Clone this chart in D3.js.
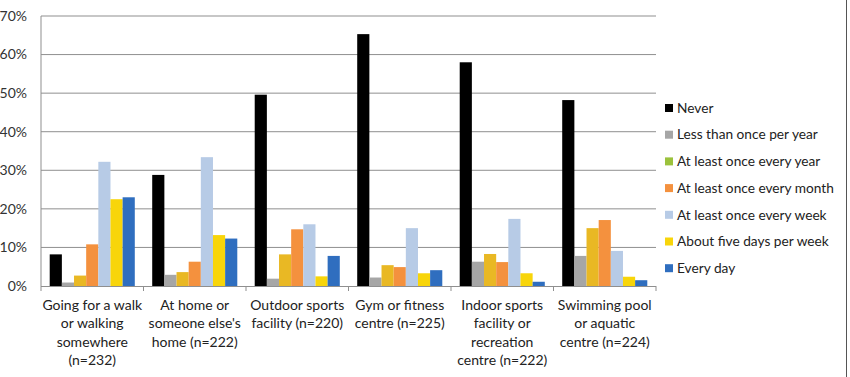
<!DOCTYPE html>
<html>
<head>
<meta charset="utf-8">
<script src="https://cdn.jsdelivr.net/npm/d3@7"></script>
<style>
  html, body { margin: 0; padding: 0; background: #fff; }
  svg { display: block; font-family: Lato, "Open Sans", sans-serif; }
</style>
</head>
<body>
<svg id="chart" width="850" height="377"></svg>
<script>
"use strict";

// ── Data ──────────────────────────────────────────────────────────────────────
const categories = [
  ["Going for a walk", "or walking", "somewhere", "(n=232)"],
  ["At home or", "someone else's", "home (n=222)"],
  ["Outdoor sports", "facility (n=220)"],
  ["Gym or fitness", "centre (n=225)"],
  ["Indoor sports", "facility or", "recreation", "centre (n=222)"],
  ["Swimming pool", "or aquatic", "centre (n=224)"]
];
const seriesNames = [
  "Never",
  "Less than once per year",
  "At least once every year",
  "At least once every month",
  "At least once every week",
  "About five days per week",
  "Every day"
];
const seriesColors = ["#000000", "#a6a6a6", "#e9b824", "#f4913e", "#b7cbe6", "#f8d50a", "#2f6ebf"];
const legendColors = ["#000000", "#a6a6a6", "#9bc23c", "#f4913e", "#b7cbe6", "#f8d50a", "#2f6ebf"];

// one array per series, values in % for each category
const never        = [8.2, 28.8, 49.6, 65.3, 58.0, 48.2];
const lessThanYear = [0.9, 2.9, 1.9, 2.2, 6.3, 7.8];
const onceYear     = [2.7, 3.6, 8.2, 5.4, 8.3, 15.0];
const onceMonth    = [10.8, 6.3, 14.7, 4.9, 6.2, 17.1];
const onceWeek     = [32.2, 33.4, 16.0, 15.0, 17.4, 9.1];
const fiveDays     = [22.5, 13.2, 2.5, 3.3, 3.3, 2.4];
const everyDay     = [23.0, 12.3, 7.8, 4.1, 1.1, 1.5];
const seriesValues = [never, lessThanYear, onceYear, onceMonth, onceWeek, fiveDays, everyDay];

const yTicks = [0, 10, 20, 30, 40, 50, 60, 70];

// ── Layout ────────────────────────────────────────────────────────────────────
const svg = d3.select("#chart");
const M = { left: 41, right: 656, top: 16, bottom: 286 };

const x0 = d3.scaleBand()
  .domain(d3.range(categories.length))
  .range([M.left, M.right])
  .paddingInner(0.17)
  .paddingOuter(0.085);

const step = (M.right - M.left) / categories.length;
const x1 = d3.scaleBand()
  .domain(d3.range(seriesNames.length))
  .range([0, x0.bandwidth()]);

const y = d3.scaleLinear().domain([0, 70]).range([M.bottom, M.top]);

// gridlines
svg.append("g")
  .selectAll("line")
  .data(yTicks.slice(1))
  .join("line")
  .attr("x1", M.left).attr("x2", M.right)
  .attr("y1", (d) => y(d)).attr("y2", (d) => y(d))
  .attr("stroke", "#8f8f8f").attr("stroke-width", 1);

// left axis line
svg.append("line")
  .attr("x1", M.left).attr("x2", M.left)
  .attr("y1", M.top).attr("y2", M.bottom)
  .attr("stroke", "#8f8f8f");

// y labels
svg.append("g")
  .selectAll("text")
  .data(yTicks)
  .join("text")
  .attr("x", 27).attr("y", (d) => y(d))
  .attr("dy", "0.35em")
  .attr("text-anchor", "end")
  .attr("font-size", 14)
  .attr("fill", "#333")
  .text((d) => d + "%");

// bars
const groups = svg.append("g")
  .selectAll("g")
  .data(categories.map((c, i) => i))
  .join("g")
  .attr("transform", (i) => `translate(${x0(i)},0)`);

groups.selectAll("rect")
  .data((i) => seriesValues.map((s, k) => ({ k, v: s[i] })))
  .join("rect")
  .attr("x", (d) => x1(d.k))
  .attr("width", x1.bandwidth())
  .attr("y", (d) => y(d.v))
  .attr("height", (d) => y(0) - y(d.v))
  .attr("fill", (d) => seriesColors[d.k]);

// x axis + ticks at category boundaries
svg.append("line")
  .attr("x1", M.left).attr("x2", M.right)
  .attr("y1", M.bottom + 0.5).attr("y2", M.bottom + 0.5)
  .attr("stroke", "#8f8f8f");

svg.append("g")
  .selectAll("line")
  .data(d3.range(categories.length + 1))
  .join("line")
  .attr("x1", (i) => M.left + i * step).attr("x2", (i) => M.left + i * step)
  .attr("y1", M.bottom).attr("y2", M.bottom + 5)
  .attr("stroke", "#8f8f8f");

// category labels
const lab = svg.append("g")
  .selectAll("text")
  .data(categories)
  .join("text")
  .attr("text-anchor", "middle")
  .attr("font-size", 14)
  .attr("fill", "#222")
  .attr("x", (d, i) => M.left + step * (i + 0.5));

lab.selectAll("tspan")
  .data((d) => d)
  .join("tspan")
  .attr("x", function () { return this.parentNode.getAttribute("x"); })
  .attr("y", (d, j) => 305 + j * 18.5)
  .attr("dy", "0.35em")
  .text((d) => d);

// legend
const leg = svg.append("g")
  .selectAll("g")
  .data(seriesNames)
  .join("g")
  .attr("transform", (d, i) => `translate(665,${108 + i * 26.7})`);

leg.append("rect")
  .attr("x", 0).attr("y", -4)
  .attr("width", 8).attr("height", 8)
  .attr("fill", (d, i) => legendColors[i]);

leg.append("text")
  .attr("x", 12).attr("dy", "0.35em")
  .attr("font-size", 13.7)
  .attr("fill", "#222")
  .text((d) => d);

// right frame line
svg.append("line")
  .attr("x1", 846.5).attr("x2", 846.5)
  .attr("y1", 0).attr("y2", 377)
  .attr("stroke", "#555");
</script>
</body>
</html>
